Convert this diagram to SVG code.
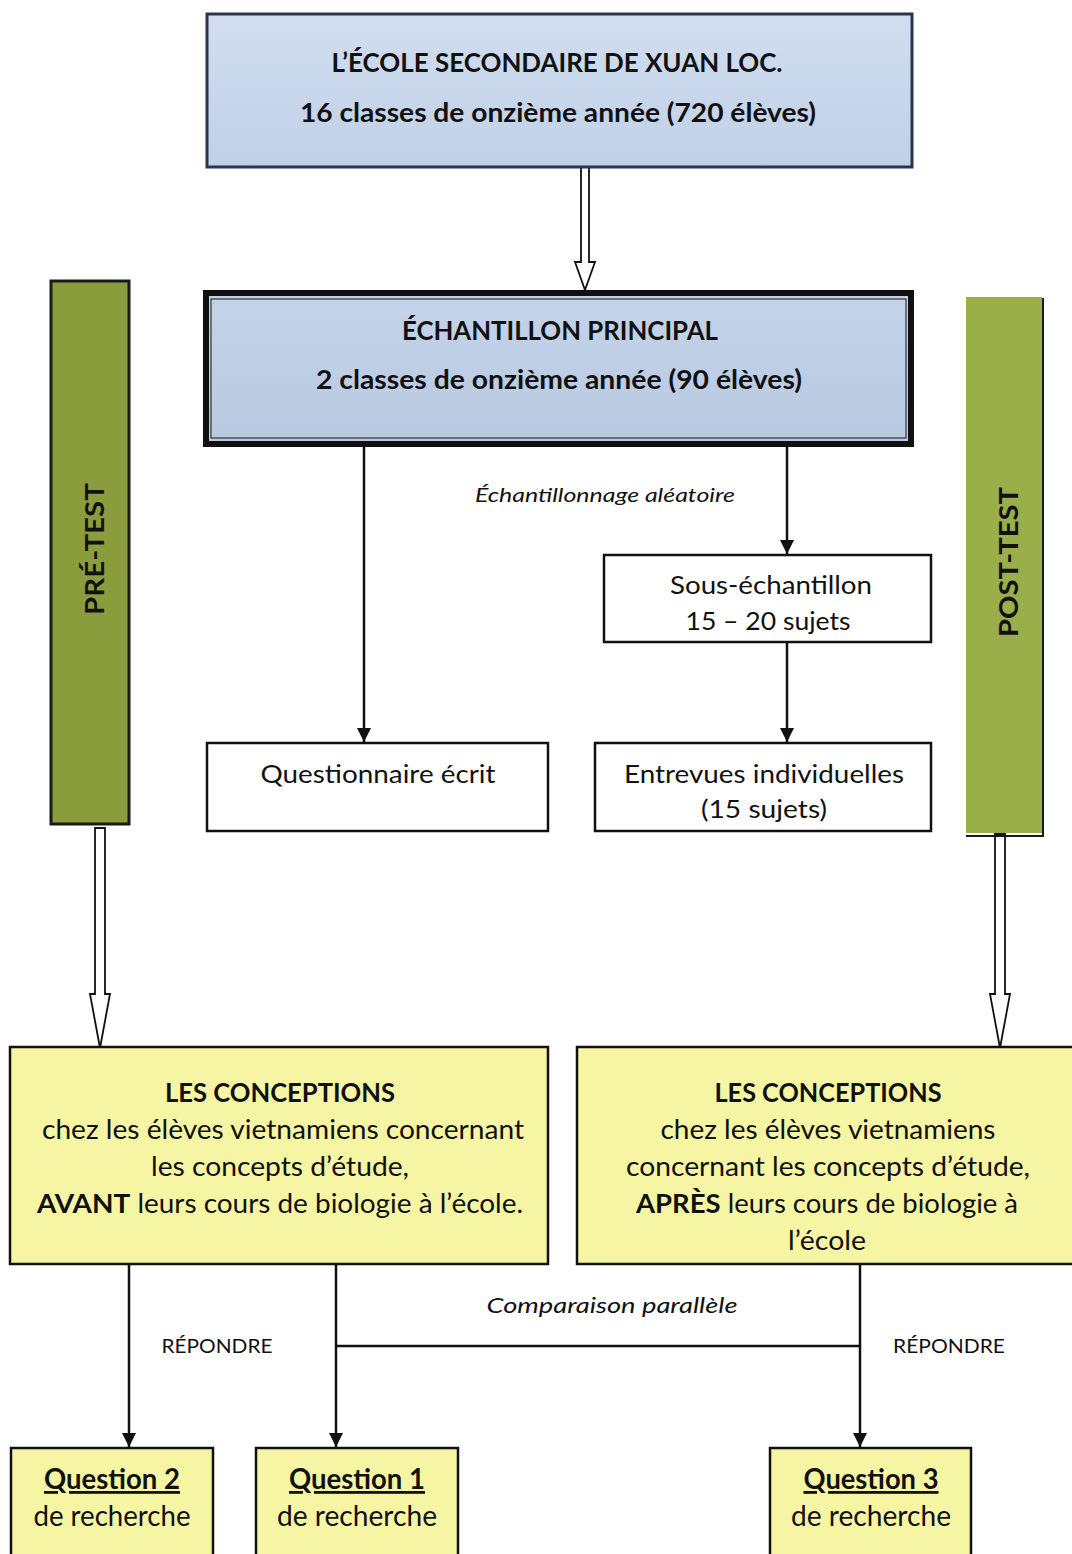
<svg xmlns="http://www.w3.org/2000/svg" width="1072" height="1554" viewBox="0 0 1072 1554">
<defs>
<linearGradient id="blueG" x1="0" y1="0" x2="0" y2="1">
<stop offset="0" stop-color="#d2deef"/><stop offset="1" stop-color="#bfd0e7"/>
</linearGradient>
<linearGradient id="blueG2" x1="0" y1="0" x2="0" y2="1">
<stop offset="0" stop-color="#c4d3e8"/><stop offset="1" stop-color="#b8c9e1"/>
</linearGradient>
<marker id="arr" viewBox="0 0 10 10" refX="10" refY="5" markerWidth="14" markerHeight="14" markerUnits="userSpaceOnUse" orient="auto">
<path d="M0,0 L10,5 L0,10 z" fill="#111"/>
</marker>
<style>
text{font-family:Lato,"Open Sans","Liberation Sans",sans-serif;fill:#111;text-anchor:middle}
.b{font-weight:bold}
.i{font-style:italic}
.box{fill:#fff;stroke:#111;stroke-width:2.5}
.yel{fill:#f6f5a4;stroke:#111;stroke-width:2.5}
.ln{fill:none;stroke:#111;stroke-width:2.5}
.hollow{fill:#fff;stroke:#111;stroke-width:1.8}
</style>
</defs>

<g id="connectors">
<path class="hollow" d="M581,167 L589,167 L589,262 L595,262 L585,290 L575,262 L581,262 Z"/>
<path class="ln" d="M364,447 L364,742" marker-end="url(#arr)"/>
<path class="ln" d="M787,447 L787,554" marker-end="url(#arr)"/>
<path class="ln" d="M787,642 L787,742" marker-end="url(#arr)"/>
<path class="hollow" d="M95,828 L105,828 L105,994 L110,994 L100,1048 L90,994 L95,994 Z"/>
<path class="hollow" d="M995,834 L1005,834 L1005,994 L1010,994 L1000,1048 L990,994 L995,994 Z"/>
<path class="ln" d="M129,1264 L129,1447" marker-end="url(#arr)"/>
<path class="ln" d="M336,1264 L336,1447" marker-end="url(#arr)"/>
<path class="ln" d="M860,1264 L860,1447" marker-end="url(#arr)"/>
<path class="ln" d="M336,1346 L860,1346"/>
<text class="i" x="605" y="502" font-size="20" textLength="260" lengthAdjust="spacingAndGlyphs">Échantillonnage aléatoire</text>
<text class="i" x="612" y="1313" font-size="22" textLength="251" lengthAdjust="spacingAndGlyphs">Comparaison parallèle</text>
<text x="217" y="1353" font-size="20" textLength="111" lengthAdjust="spacingAndGlyphs">RÉPONDRE</text>
<text x="949" y="1353" font-size="20" textLength="112" lengthAdjust="spacingAndGlyphs">RÉPONDRE</text>
</g>

<g id="ecole">
<rect x="207" y="14" width="705" height="153" fill="url(#blueG)" stroke="#2b3550" stroke-width="3"/>
<text class="b" x="557" y="72" font-size="26" textLength="451" lengthAdjust="spacingAndGlyphs">L’ÉCOLE SECONDAIRE DE XUAN LOC.</text>
<text class="b" x="558" y="122" font-size="26" textLength="516" lengthAdjust="spacingAndGlyphs">16 classes de onzième année (720 élèves)</text>
</g>

<g id="principal">
<rect x="206" y="293" width="705" height="151" fill="url(#blueG2)" stroke="#111" stroke-width="6"/>
<rect x="211" y="299" width="695" height="139" fill="none" stroke="#333" stroke-width="1.2"/>
<text class="b" x="560" y="340" font-size="26" textLength="316" lengthAdjust="spacingAndGlyphs">ÉCHANTILLON PRINCIPAL</text>
<text class="b" x="559" y="389" font-size="26" textLength="486" lengthAdjust="spacingAndGlyphs">2 classes de onzième année (90 élèves)</text>
</g>

<g id="pretest">
<rect x="51" y="281" width="78" height="543" fill="#8a9c3c" stroke="#1a1a1a" stroke-width="3"/>
<text class="b" transform="translate(104,549) rotate(-90)" font-size="26" textLength="132" lengthAdjust="spacingAndGlyphs">PRÉ-TEST</text>
</g>

<g id="posttest">
<rect x="966" y="297" width="76" height="536" fill="#9aae4a"/>
<path d="M1043,298 L1043,836 L966,836" fill="none" stroke="#1a1a1a" stroke-width="2"/>
<text class="b" transform="translate(1018,562) rotate(-90)" font-size="26" textLength="150" lengthAdjust="spacingAndGlyphs">POST-TEST</text>
</g>

<g id="sous-echantillon">
<rect class="box" x="604" y="555" width="327" height="87"/>
<text x="771" y="594" font-size="25" textLength="202" lengthAdjust="spacingAndGlyphs">Sous-échantillon</text>
<text x="768" y="630" font-size="25" textLength="165" lengthAdjust="spacingAndGlyphs">15 – 20 sujets</text>
</g>

<g id="questionnaire">
<rect class="box" x="207" y="743" width="341" height="88"/>
<text x="378" y="783" font-size="25" textLength="235" lengthAdjust="spacingAndGlyphs">Questionnaire écrit</text>
</g>

<g id="entrevues">
<rect class="box" x="595" y="743" width="336" height="88"/>
<text x="764" y="783" font-size="25" textLength="280" lengthAdjust="spacingAndGlyphs">Entrevues individuelles</text>
<text x="764" y="818" font-size="25" textLength="126" lengthAdjust="spacingAndGlyphs">(15 sujets)</text>
</g>

<g id="conceptions-avant">
<rect class="yel" x="10" y="1047" width="538" height="217"/>
<text class="b" x="280" y="1102" font-size="26" textLength="230" lengthAdjust="spacingAndGlyphs">LES CONCEPTIONS</text>
<text x="283" y="1139" font-size="26" textLength="482" lengthAdjust="spacingAndGlyphs">chez les élèves vietnamiens concernant</text>
<text x="280" y="1176" font-size="26" textLength="258" lengthAdjust="spacingAndGlyphs">les concepts d’étude,</text>
<text x="280" y="1213" font-size="26" textLength="486" lengthAdjust="spacingAndGlyphs"><tspan class="b">AVANT</tspan> leurs cours de biologie à l’école.</text>
</g>

<g id="conceptions-apres">
<rect class="yel" x="577" y="1047" width="500" height="217"/>
<text class="b" x="828" y="1102" font-size="26" textLength="227" lengthAdjust="spacingAndGlyphs">LES CONCEPTIONS</text>
<text x="828" y="1139" font-size="26" textLength="335" lengthAdjust="spacingAndGlyphs">chez les élèves vietnamiens</text>
<text x="828" y="1176" font-size="26" textLength="404" lengthAdjust="spacingAndGlyphs">concernant les concepts d’étude,</text>
<text x="827" y="1213" font-size="26" textLength="382" lengthAdjust="spacingAndGlyphs"><tspan class="b">APRÈS</tspan> leurs cours de biologie à</text>
<text x="827" y="1250" font-size="26" textLength="78" lengthAdjust="spacingAndGlyphs">l’école</text>
</g>

<g id="question2">
<rect class="yel" x="11" y="1448" width="202" height="110"/>
<text class="b" x="112" y="1489" font-size="28" text-decoration="underline" textLength="136" lengthAdjust="spacingAndGlyphs">Question 2</text>
<text x="112" y="1526" font-size="28" textLength="157" lengthAdjust="spacingAndGlyphs">de recherche</text>
</g>

<g id="question1">
<rect class="yel" x="256" y="1448" width="202" height="110"/>
<text class="b" x="357" y="1489" font-size="28" text-decoration="underline" textLength="136" lengthAdjust="spacingAndGlyphs">Question 1</text>
<text x="357" y="1526" font-size="28" textLength="160" lengthAdjust="spacingAndGlyphs">de recherche</text>
</g>

<g id="question3">
<rect class="yel" x="770" y="1448" width="201" height="110"/>
<text class="b" x="871" y="1489" font-size="28" text-decoration="underline" textLength="135" lengthAdjust="spacingAndGlyphs">Question 3</text>
<text x="871" y="1526" font-size="28" textLength="160" lengthAdjust="spacingAndGlyphs">de recherche</text>
</g>
</svg>
